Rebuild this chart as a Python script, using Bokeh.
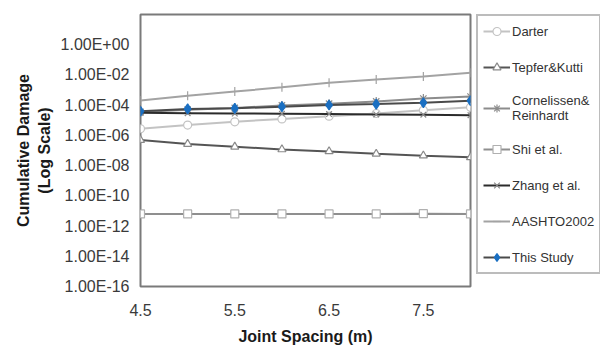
from bokeh.plotting import figure
from bokeh.layouts import row
from bokeh.models import (FixedTicker, CustomJSTickFormatter, Legend, LegendItem,
                          ColumnDataSource, Range1d)
from bokeh.embed import file_html
from bokeh.resources import INLINE

# ---- data (log10 of cumulative damage) ----
joint_spacing = [4.5, 5.0, 5.5, 6.0, 6.5, 7.0, 7.5, 8.0]
darter_log = [-5.56, -5.32, -5.10, -4.91, -4.73, -4.55, -4.34, -4.14]
tepfer_log = [-6.31, -6.57, -6.75, -6.93, -7.06, -7.22, -7.34, -7.45]
cornelissen_log = [-4.45, -4.30, -4.18, -4.02, -3.90, -3.75, -3.56, -3.43]
shi_log = [-11.20, -11.20, -11.20, -11.20, -11.20, -11.20, -11.18, -11.20]
zhang_log = [-4.51, -4.53, -4.55, -4.57, -4.59, -4.61, -4.63, -4.66]
aashto_log = [-3.69, -3.38, -3.10, -2.82, -2.51, -2.30, -2.10, -1.86]
this_study_log = [-4.40, -4.25, -4.21, -4.10, -3.99, -3.93, -3.84, -3.71]

series_names = ["Darter", "Tepfer&Kutti", "Cornelissen&\nReinhardt", "Shi et al.",
                "Zhang et al.", "AASHTO2002", "This Study"]
series_logs = [darter_log, tepfer_log, cornelissen_log, shi_log, zhang_log,
               aashto_log, this_study_log]

y_tick_exponents = [-16, -14, -12, -10, -8, -6, -4, -2, 0]
x_ticks = [4.5, 5.5, 6.5, 7.5]

styles = [
    dict(line="#c3c3c3", marker="circle", mline="#c3c3c3", mfill="white", size=8),
    dict(line="#555555", marker="triangle", mline="#8a8a8a", mfill="white", size=8),
    dict(line="#8c8c8c", marker="asterisk", mline="#8c8c8c", mfill="white", size=9),
    dict(line="#8f8f8f", marker="square", mline="#b0b0b0", mfill="white", size=8),
    dict(line="#2b2b2b", marker="x", mline="#8a8a8a", mfill="white", size=8),
    dict(line="#a3a3a3", marker="dash", mline="#a3a3a3", mfill="#a3a3a3", size=9),
    dict(line="#4a4a4a", marker="diamond", mline="#1a6fc2", mfill="#1a6fc2", size=10),
]


def draw_series(fig, xs, ys, st):
    src = ColumnDataSource(dict(x=xs, y=ys))
    r1 = fig.line("x", "y", source=src, line_color=st["line"], line_width=2)
    if st["marker"] == "dash":
        r2 = fig.scatter("x", "y", source=src, marker="dash", angle=1.5708,
                         size=st["size"], line_color=st["mline"], line_width=1.2)
    else:
        r2 = fig.scatter("x", "y", source=src, marker=st["marker"], size=st["size"],
                         line_color=st["mline"], fill_color=st["mfill"], line_width=1.2)
    return [r1, r2]


# ---- main chart ----
p = figure(x_axis_type="linear", y_axis_type="log",
           x_range=(4.5, 8.0), y_range=(1e-16, 1e2),
           width=476, height=347,
           output_backend="svg", toolbar_location=None,
           min_border_left=140, min_border_top=13, min_border_right=6,
           min_border_bottom=59)

for logs, st in zip(series_logs, styles):
    draw_series(p, joint_spacing, [10.0 ** v for v in logs], st)

p.xgrid.visible = False
p.ygrid.visible = False
p.outline_line_color = "#7a7a7a"
p.outline_line_width = 2

p.yaxis.ticker = FixedTicker(ticks=[10.0 ** e for e in y_tick_exponents])
p.yaxis.formatter = CustomJSTickFormatter(code="""
    const e = Math.round(Math.log10(tick));
    const s = e < 0 ? '-' : '+';
    const a = Math.abs(e);
    return '1.00E' + s + (a < 10 ? '0' : '') + a;
""")
p.xaxis.ticker = FixedTicker(ticks=x_ticks)
p.xaxis.formatter = CustomJSTickFormatter(code="return tick.toFixed(1);")

for ax in (p.xaxis[0], p.yaxis[0]):
    ax.axis_line_color = None
    ax.major_tick_line_color = None
    ax.minor_tick_line_color = None
    ax.major_tick_out = 0
    ax.major_tick_in = 0
    ax.minor_tick_out = 0
    ax.minor_tick_in = 0
    ax.major_label_text_font = "Liberation Sans"
    ax.major_label_text_font_size = "16px"
    ax.major_label_text_color = "#3a3a3a"
    ax.axis_label_text_font = "Liberation Sans"
    ax.axis_label_text_font_size = "16px"
    ax.axis_label_text_font_style = "bold"
    ax.axis_label_text_color = "#1a1a1a"

p.xaxis.axis_label = "Joint Spacing (m)"
p.xaxis.major_label_standoff = 17
p.xaxis.axis_label_standoff = 9
p.yaxis.axis_label = "Cumulative Damage\n(Log Scale)"
p.yaxis.major_label_standoff = 11
p.yaxis.axis_label_standoff = 5

# ---- legend panel (separate figure holding only the legend) ----
lf = figure(width=124, height=347, x_range=Range1d(0, 1), y_range=Range1d(0, 1),
            output_backend="svg", toolbar_location=None,
            min_border_left=0, min_border_right=0, min_border_top=14,
            min_border_bottom=0)
lf.axis.visible = False
lf.grid.visible = False
lf.outline_line_color = None

items = []
for name, logs, st in zip(series_names, series_logs, styles):
    # same series, placed outside this panel's ranges: only their legend glyphs show
    rs = draw_series(lf, joint_spacing, [10.0 ** v for v in logs], st)
    items.append(LegendItem(label=name, renderers=rs))

legend = Legend(items=items, location="top_left", margin=0, padding=5,
                spacing=16, label_height=20, glyph_height=20, glyph_width=27,
                label_standoff=2,
                label_text_font="Liberation Sans", label_text_font_size="13px",
                label_text_color="#333333",
                border_line_color="#7a7a7a", border_line_width=2,
                background_fill_alpha=1.0)
lf.add_layout(legend, "center")

layout = row(p, lf)
open("out.html", "w").write(file_html(layout, INLINE))
